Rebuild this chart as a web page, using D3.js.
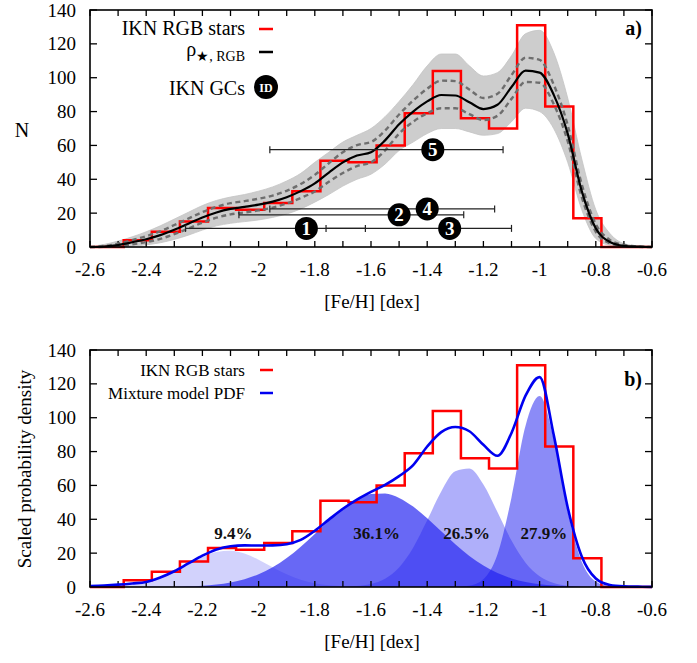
<!DOCTYPE html>
<html>
<head>
<meta charset="utf-8">
<script src="https://cdn.jsdelivr.net/npm/d3@7/dist/d3.min.js"></script>
<style>
body { margin: 0; background: #fff; }
text { font-family: "Liberation Serif", "Times New Roman", serif; }
</style>
</head>
<body>
<div id="chart"></div>
<script>
// metallicity grid the curves were read on
var feh = [-2.6,-2.55,-2.5,-2.45,-2.4,-2.35,-2.3,-2.25,-2.2,-2.15,-2.1,-2.05,-2.0,-1.95,-1.9,-1.85,-1.8,-1.75,-1.7,-1.65,-1.6,-1.55,-1.5,-1.45,-1.4,-1.35,-1.3,-1.25,-1.2,-1.15,-1.1,-1.05,-1.0,-0.95,-0.9,-0.85,-0.8,-0.75,-0.7,-0.65,-0.6];

// histogram of IKN RGB stars (bin width 0.1)
var binEdges = [-2.48,-2.38,-2.28,-2.18,-2.08,-1.98,-1.88,-1.78,-1.68,-1.58,-1.48,-1.38,-1.28,-1.18,-1.08,-0.98,-0.88,-0.78];
var counts = [4,9,15,23,22,26,33,51,50,60,79,104,76,70,131,83,17];

// panel a) density estimate
var rhoMed = [0.0,0.3,1.2,2.8,4.6,7.0,10.2,13.8,17.4,20.4,22.5,23.7,25.0,26.8,29.4,33.0,37.6,44.0,50.0,54.0,56.0,63.0,72.5,80.0,86.0,89.8,89.5,85.5,81.5,84.0,94.5,104.2,103.0,90.0,67.0,33.0,11.0,3.0,0.7,0.2,0.0];
var rhoHi = [0.0,0.6,2.0,4.1,6.4,9.3,13.0,16.8,20.6,23.7,25.9,27.1,28.5,30.4,33.2,37.2,42.6,49.5,56.0,60.2,62.0,68.8,78.3,86.5,93.5,98.3,98.0,93.0,88.0,90.5,101.5,111.8,110.5,96.0,72.0,37.0,13.5,4.2,1.2,0.4,0.0];
var rhoLo = [0.0,0.1,0.6,1.6,2.9,4.8,7.6,10.9,14.4,17.3,19.3,20.4,21.6,23.3,25.7,29.0,32.8,38.5,43.7,47.8,50.0,57.0,67.0,74.0,79.0,82.0,82.0,78.5,75.0,77.5,87.5,97.5,97.0,84.5,62.5,29.5,9.0,2.2,0.4,0.1,0.0];
var bandHi = [0.3,1.5,3.5,6.0,9.0,12.5,16.5,20.5,24.5,27.5,29.5,31.0,33.0,35.5,39.0,43.5,50.0,56.0,62.0,66.0,70.0,77.0,86.0,96.0,107.0,114.0,114.0,107.0,101.0,103.0,113.0,126.0,128.0,115.0,88.0,52.0,22.0,8.0,2.0,0.6,0.1];
var bandLo = [0,0,0.2,0.6,1.3,2.5,4.5,7.0,10.0,12.5,14.0,15.0,16.0,17.5,19.5,22.5,26.5,31.0,36.0,40.0,43.0,49.0,57.0,62.0,67.0,70.0,70.0,68.0,66.0,67.0,74.0,82.0,80.0,70.0,50.0,22.0,5.0,1.0,0.1,0,0];

// globular clusters
var gcNames = ["1","2","3","4","5"];
var gcFeh = [-1.83,-1.50,-1.32,-1.40,-1.38];
var gcErrLo = [-2.26,-2.07,-1.76,-1.96,-1.96];
var gcErrHi = [-1.62,-1.27,-1.10,-1.16,-1.13];
var gcY = [11,19,11,22.5,57.5];

// panel b) mixture model
var mixPdf = [0.6,0.9,1.4,2.1,3.0,5.6,9.3,13.9,18.5,22.2,24.1,24.6,24.5,24.6,25.3,27.8,33.2,39.8,46.2,51.6,56.2,60.3,65.5,72.0,83.0,91.5,94.5,92.0,84.0,77.5,91.0,113.0,124.0,90.0,47.0,18.0,5.0,1.2,0.4,0.2,0.1];
var comp1 = [0.07,0.22,0.58,1.38,2.91,5.46,9.11,13.49,17.73,20.70,21.45,19.74,16.12,11.70,7.53,4.31,2.19,0.99,0.39,0.14,0.04,0.01,0,0,0,0,0,0,0,0,0,0,0,0,0,0,0,0,0,0,0];
var comp2 = [0,0,0,0.01,0.03,0.08,0.17,0.37,0.76,1.46,2.66,4.59,7.51,11.64,17.09,23.77,31.32,39.09,46.22,51.79,54.96,55.26,52.64,47.50,40.60,32.88,25.23,18.34,12.63,8.24,5.09,2.98,1.65,0.87,0.43,0.20,0.09,0.04,0.02,0.01,0];
var comp3 = [0,0,0,0,0,0,0,0,0,0,0,0,0,0,0,0,0.01,0.03,0.13,0.53,1.74,4.89,11.59,23.24,39.38,56.41,68.31,69.94,60.53,44.29,27.40,14.33,6.33,2.37,0.75,0.20,0.05,0.01,0,0,0];
var comp4 = [0,0,0,0,0,0,0,0,0,0,0,0,0,0,0,0,0,0,0,0,0,0,0,0,0,0,0.07,0.72,4.57,19.19,52.80,95.26,112.76,87.55,44.59,14.90,3.27,0.47,0.04,0,0];
var compLabels = ["9.4%","36.1%","26.5%","27.9%"];
var compLabelFeh = [-2.09,-1.58,-1.26,-0.985];

var xTickLabels = ["-2.6","-2.4","-2.2","-2","-1.8","-1.6","-1.4","-1.2","-1","-0.8","-0.6"];
var yTicks = [0,20,40,60,80,100,120,140];

var width = 697, height = 663;
var svg = d3.select("#chart").append("svg")
    .attr("width", width)
    .attr("height", height);

var x = d3.scaleLinear().domain([-2.6, -0.6]).range([90, 652]);

function drawFrame(g, y, top, bottom) {
    // ticks inward, x minor every 0.1
    x.ticks(20).forEach(function(v) {
        g.append("line").attr("x1", x(v)).attr("x2", x(v)).attr("y1", bottom).attr("y2", bottom - 6)
            .attr("stroke", "#000").attr("stroke-width", 1.3);
        g.append("line").attr("x1", x(v)).attr("x2", x(v)).attr("y1", top).attr("y2", top + 6)
            .attr("stroke", "#000").attr("stroke-width", 1.3);
    });
    yTicks.forEach(function(v) {
        g.append("line").attr("x1", 90).attr("x2", 97).attr("y1", y(v)).attr("y2", y(v))
            .attr("stroke", "#000").attr("stroke-width", 1.3);
        g.append("line").attr("x1", 652).attr("x2", 645).attr("y1", y(v)).attr("y2", y(v))
            .attr("stroke", "#000").attr("stroke-width", 1.3);
        g.append("text").attr("x", 76).attr("y", y(v) + 6.5)
            .attr("text-anchor", "end").style("font-size", "19px").text(v);
    });
    xTickLabels.forEach(function(s) {
        g.append("text").attr("x", x(+s)).attr("y", bottom + 29)
            .attr("text-anchor", "middle").style("font-size", "19px").text(s);
    });
    g.append("text").attr("x", 372).attr("y", bottom + 61)
        .attr("text-anchor", "middle").style("font-size", "19px").text("[Fe/H] [dex]");
}

function frameBox(g, top, bottom) {
    g.append("rect").attr("x", 90).attr("y", top)
        .attr("width", 562).attr("height", bottom - top)
        .attr("fill", "none").attr("stroke", "#000").attr("stroke-width", 1.6);
}

function histPath(y) {
    var pts = [[-2.6, 0]];
    counts.forEach(function(c, i) { pts.push([binEdges[i], c]); });
    pts.push([binEdges[binEdges.length - 1], 0]);
    pts.push([-0.6, 0]);
    return d3.line().x(function(d) { return x(d[0]); }).y(function(d) { return y(d[1]); })
        .curve(d3.curveStepAfter)(pts);
}

function curve(y, vals) {
    return d3.line().x(function(d, i) { return x(feh[i]); }).y(function(d) { return y(d); })
        .curve(d3.curveMonotoneX)(vals);
}

// ---------- panel a ----------
var topA = 10, botA = 247;
var yA = d3.scaleLinear().domain([0, 140]).range([botA, topA]);
var gA = svg.append("g");

gA.append("path")
    .attr("d", d3.area().x(function(d, i) { return x(feh[i]); })
        .y0(function(d, i) { return yA(bandLo[i]); })
        .y1(function(d) { return yA(d); })
        .curve(d3.curveMonotoneX)(bandHi))
    .attr("fill", "#cdcdcd");
[bandHi, bandLo].forEach(function(b) {
    gA.append("path").attr("d", curve(yA, b))
        .attr("fill", "none").attr("stroke", "#c4c4c4").attr("stroke-width", 0.8);
});

drawFrame(gA, yA, topA, botA);

gA.append("path").attr("d", histPath(yA))
    .attr("fill", "none").attr("stroke", "#ff0000").attr("stroke-width", 2.5);

[rhoHi, rhoLo].forEach(function(b) {
    gA.append("path").attr("d", curve(yA, b))
        .attr("fill", "none").attr("stroke", "#6e6e6e").attr("stroke-width", 2.4)
        .attr("stroke-dasharray", "5,3.5");
});
gA.append("path").attr("d", curve(yA, rhoMed))
    .attr("fill", "none").attr("stroke", "#000").attr("stroke-width", 2.2);

// GC error bars
gcNames.forEach(function(n, i) {
    var yy = yA(gcY[i]);
    gA.append("line").attr("x1", x(gcErrLo[i])).attr("x2", x(gcErrHi[i]))
        .attr("y1", yy).attr("y2", yy).attr("stroke", "#222").attr("stroke-width", 1.2);
    [gcErrLo[i], gcErrHi[i]].forEach(function(e) {
        gA.append("line").attr("x1", x(e)).attr("x2", x(e))
            .attr("y1", yy - 3.5).attr("y2", yy + 3.5).attr("stroke", "#222").attr("stroke-width", 1.2);
    });
});
gcNames.forEach(function(n, i) {
    var yy = yA(gcY[i]);
    gA.append("circle").attr("cx", x(gcFeh[i])).attr("cy", yy).attr("r", 11.5).attr("fill", "#000");
    gA.append("text").attr("x", x(gcFeh[i])).attr("y", yy + 6.5)
        .attr("text-anchor", "middle").attr("fill", "#fff")
        .style("font-size", "19px").style("font-weight", "bold").text(n);
});

frameBox(gA, topA, botA);

// legend a
gA.append("text").attr("x", 245).attr("y", 35).attr("text-anchor", "end")
    .style("font-size", "20px").text("IKN RGB stars");
gA.append("line").attr("x1", 259).attr("x2", 273).attr("y1", 29).attr("y2", 29)
    .attr("stroke", "#ff0000").attr("stroke-width", 2.5);
var rho = gA.append("text").attr("x", 245).attr("y", 56).attr("text-anchor", "end")
    .style("font-size", "20px");
rho.append("tspan").text("ρ");
rho.append("tspan").attr("dy", 5).style("font-size", "14px").text("★, RGB");
gA.append("line").attr("x1", 259).attr("x2", 273).attr("y1", 52).attr("y2", 52)
    .attr("stroke", "#000").attr("stroke-width", 2.5);
gA.append("text").attr("x", 245).attr("y", 95).attr("text-anchor", "end")
    .style("font-size", "20px").text("IKN GCs");
gA.append("circle").attr("cx", 266).attr("cy", 87).attr("r", 12).attr("fill", "#000");
gA.append("text").attr("x", 266).attr("y", 91.5).attr("text-anchor", "middle").attr("fill", "#fff")
    .style("font-size", "12px").style("font-weight", "bold").text("ID");

gA.append("text").attr("x", 642).attr("y", 35).attr("text-anchor", "end")
    .style("font-size", "20px").style("font-weight", "bold").text("a)");

svg.append("text").attr("x", 22).attr("y", 137).attr("text-anchor", "middle")
    .style("font-size", "20px").text("N");

// ---------- panel b ----------
var topB = 350, botB = 587;
var yB = d3.scaleLinear().domain([0, 140]).range([botB, topB]);
var gB = svg.append("g");

var compStyle = [
    { comp: comp1, op: 0.2 },
    { comp: comp2, op: 0.68 },
    { comp: comp3, op: 0.36 },
    { comp: comp4, op: 0.52 }
];
compStyle.forEach(function(c) {
    gB.append("path")
        .attr("d", d3.area().x(function(d, i) { return x(feh[i]); })
            .y0(botB).y1(function(d) { return yB(d); })
            .curve(d3.curveMonotoneX)(c.comp))
        .attr("fill", "#2020f0").attr("fill-opacity", c.op);
});

drawFrame(gB, yB, topB, botB);

compLabels.forEach(function(s, i) {
    gB.append("text").attr("x", x(compLabelFeh[i])).attr("y", yB(28.5))
        .attr("text-anchor", "middle").style("font-size", "17px").style("font-weight", "bold")
        .attr("fill", "#111").text(s);
});

gB.append("path").attr("d", histPath(yB))
    .attr("fill", "none").attr("stroke", "#ff0000").attr("stroke-width", 2.5);
gB.append("path").attr("d", curve(yB, mixPdf))
    .attr("fill", "none").attr("stroke", "#0000f0").attr("stroke-width", 2.6);

frameBox(gB, topB, botB);

gB.append("text").attr("x", 245).attr("y", 376).attr("text-anchor", "end")
    .style("font-size", "17px").text("IKN RGB stars");
gB.append("line").attr("x1", 260).attr("x2", 273).attr("y1", 370).attr("y2", 370)
    .attr("stroke", "#ff0000").attr("stroke-width", 2.5);
gB.append("text").attr("x", 245).attr("y", 399).attr("text-anchor", "end")
    .style("font-size", "17px").text("Mixture model PDF");
gB.append("line").attr("x1", 260).attr("x2", 273).attr("y1", 393).attr("y2", 393)
    .attr("stroke", "#0000f0").attr("stroke-width", 2.5);

gB.append("text").attr("x", 642).attr("y", 386).attr("text-anchor", "end")
    .style("font-size", "20px").style("font-weight", "bold").text("b)");

svg.append("text").attr("transform", "translate(31,469) rotate(-90)")
    .attr("text-anchor", "middle").style("font-size", "19px").text("Scaled probability density");
</script>
</body>
</html>
